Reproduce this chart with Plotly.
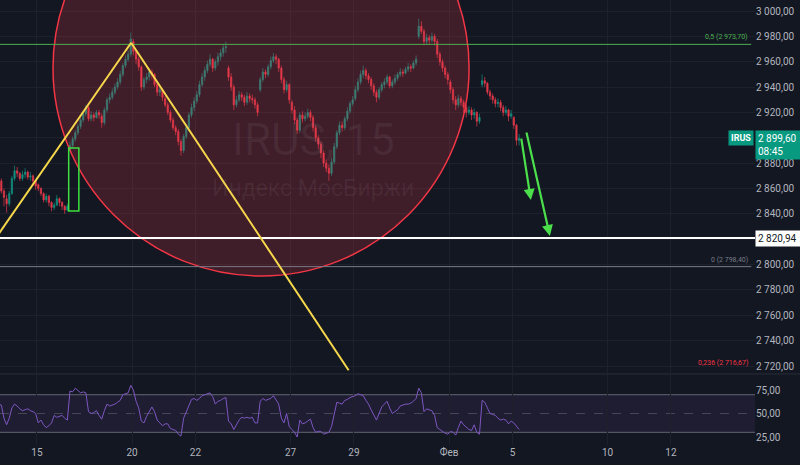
import plotly.graph_objects as go

# ---- IRUS (Индекс МосБиржи), 15-minute bars grouped into 12 slots per session ----
# session day index: 0 = Jan 15 2025 (trading days only, weekends removed)
session_day = [-2, -1, 0, 1, 2, 3, 4, 5, 6, 7, 8, 9, 10, 11, 12, 13, 14, 15]
session_first_slot = [9, 0, 0, 0, 0, 0, 0, 0, 0, 0, 0, 0, 0, 0, 0, 0, 0, 0]
session_bars = [3, 12, 12, 12, 12, 12, 12, 12, 12, 12, 12, 12, 12, 12, 12, 12, 12, 3]
session_open = [2870, 2852, 2863, 2890, 2917, 2976, 2931, 2929, 2955, 2938,
                2928, 2888, 2931, 2944, 2980, 2944, 2942, 2916]
SLOTS = 12

close = [
    2866, 2858, 2853,
    2848, 2856, 2868, 2874, 2872, 2868, 2871, 2873, 2869, 2870, 2866, 2862,
    2860, 2856, 2851, 2854, 2849, 2845, 2847, 2852, 2849, 2846, 2843, 2846,
    2894, 2899, 2904, 2909, 2914, 2919, 2924, 2915, 2918, 2916, 2920, 2918,
    2912, 2922, 2930, 2932, 2936, 2940, 2944, 2950, 2957, 2962, 2966, 2978,
    2968, 2962, 2956, 2940, 2946, 2948, 2952, 2950, 2942, 2936, 2938, 2932,
    2926, 2920, 2914, 2908, 2905, 2897, 2890, 2901, 2908, 2918, 2924, 2929,
    2934, 2942, 2948, 2953, 2958, 2962, 2955, 2960, 2964, 2967, 2971, 2972,
    2948, 2940, 2926, 2930, 2934, 2932, 2928, 2933, 2931, 2930, 2926, 2920,
    2946, 2952, 2950, 2956, 2961, 2964, 2962, 2955, 2946, 2938, 2942, 2930,
    2922, 2914, 2906, 2918, 2915, 2917, 2920, 2916, 2908, 2900, 2895, 2888,
    2880, 2876, 2872, 2881, 2893, 2904, 2910, 2908, 2915, 2921, 2927, 2930,
    2938, 2944, 2950, 2953, 2949, 2946, 2941, 2936, 2932, 2938, 2942, 2944,
    2948, 2941, 2944, 2947, 2950, 2952, 2951, 2954, 2956, 2955, 2959, 2962,
    2988, 2984, 2976, 2979, 2977, 2980, 2976, 2966, 2960, 2955, 2950, 2946,
    2938, 2930, 2926, 2931, 2928, 2924, 2920, 2922, 2918, 2920, 2913, 2916,
    2945, 2943, 2936, 2933, 2930, 2927, 2928, 2924, 2920, 2922, 2917, 2919,
    2910, 2898, 2899.60,
]
high = [
    2872, 2868, 2860,
    2855, 2858, 2870, 2878, 2877, 2873, 2874, 2876, 2874, 2873, 2871, 2867,
    2864, 2861, 2857, 2856, 2855, 2850, 2849, 2855, 2853, 2850, 2847, 2848,
    2897, 2901, 2906, 2911, 2916, 2921, 2926, 2925, 2921, 2920, 2922, 2922,
    2919, 2924, 2932, 2935, 2939, 2943, 2947, 2953, 2959, 2965, 2969, 2983,
    2978, 2970, 2964, 2957, 2948, 2951, 2955, 2954, 2951, 2944, 2940, 2939,
    2933, 2928, 2922, 2916, 2910, 2907, 2899, 2903, 2911, 2920, 2927, 2932,
    2937, 2945, 2951, 2956, 2961, 2966, 2963, 2962, 2967, 2970, 2974, 2976,
    2957, 2951, 2942, 2933, 2937, 2936, 2934, 2936, 2935, 2934, 2932, 2928,
    2948, 2955, 2954, 2958, 2964, 2967, 2966, 2963, 2957, 2948, 2945, 2943,
    2930, 2925, 2916, 2920, 2921, 2920, 2923, 2922, 2918, 2910, 2902, 2897,
    2890, 2883, 2879, 2884, 2896, 2906, 2913, 2913, 2917, 2924, 2929, 2933,
    2941, 2947, 2953, 2957, 2955, 2951, 2948, 2943, 2938, 2940, 2944, 2947,
    2950, 2949, 2946, 2950, 2952, 2955, 2954, 2956, 2959, 2958, 2961, 2965,
    2994, 2992, 2986, 2982, 2981, 2983, 2982, 2978, 2968, 2962, 2957, 2952,
    2946, 2940, 2933, 2934, 2933, 2930, 2926, 2925, 2924, 2923, 2921, 2919,
    2950, 2948, 2944, 2938, 2935, 2932, 2931, 2930, 2926, 2925, 2923, 2922,
    2917, 2911, 2903,
]
low = [
    2864, 2856, 2846,
    2841, 2846, 2855, 2866, 2869, 2866, 2866, 2868, 2867, 2866, 2864, 2859,
    2858, 2854, 2849, 2849, 2846, 2842, 2843, 2846, 2846, 2843, 2840, 2842,
    2889, 2892, 2897, 2902, 2907, 2912, 2917, 2913, 2913, 2913, 2915, 2915,
    2908, 2910, 2920, 2927, 2930, 2934, 2938, 2942, 2948, 2955, 2960, 2964,
    2965, 2958, 2953, 2937, 2938, 2943, 2945, 2946, 2940, 2933, 2933, 2929,
    2924, 2918, 2912, 2906, 2902, 2894, 2886, 2888, 2899, 2906, 2916, 2921,
    2927, 2932, 2940, 2945, 2951, 2956, 2952, 2953, 2957, 2961, 2964, 2967,
    2945, 2937, 2922, 2924, 2928, 2929, 2925, 2926, 2928, 2927, 2923, 2917,
    2936, 2944, 2947, 2948, 2954, 2959, 2958, 2952, 2943, 2935, 2936, 2927,
    2919, 2911, 2903, 2904, 2912, 2913, 2915, 2913, 2905, 2897, 2891, 2884,
    2877, 2873, 2866, 2870, 2879, 2891, 2902, 2905, 2906, 2913, 2919, 2925,
    2929, 2936, 2942, 2947, 2946, 2943, 2938, 2933, 2928, 2930, 2936, 2939,
    2942, 2939, 2939, 2942, 2945, 2948, 2948, 2950, 2952, 2952, 2954, 2957,
    2978, 2982, 2973, 2974, 2974, 2975, 2973, 2963, 2957, 2952, 2947, 2942,
    2935, 2927, 2922, 2924, 2925, 2920, 2916, 2918, 2914, 2915, 2909, 2911,
    2940, 2940, 2934, 2930, 2927, 2924, 2924, 2921, 2917, 2918, 2913, 2915,
    2907, 2894, 2894,
]
rsi = [
    60, 59, 45,
    38, 45, 56, 60, 58, 55, 53, 54, 55, 53, 52, 50,
    40, 43, 38, 35, 37, 40, 48, 46, 47, 48, 45, 43,
    74, 73, 77, 74, 72, 73, 72, 52, 50, 51, 53, 48,
    44, 53, 60, 58, 59, 60, 62, 64, 70, 71, 72, 80,
    75, 63, 56, 42, 40, 47, 52, 57, 52, 43, 40, 37,
    39, 39, 34, 33, 32, 28, 26, 45, 52, 60, 65, 66,
    64, 66, 69, 70, 71, 72, 68, 60, 63, 64, 66, 67,
    42, 39, 33, 38, 43, 46, 45, 46, 45, 46, 40, 40,
    63, 66, 64, 65, 66, 69, 65, 60, 45, 40, 50, 36,
    33, 30, 25, 43, 39, 40, 42, 44, 35, 30, 31, 31,
    28, 29, 30, 36, 48, 62, 61, 60, 64, 65, 67, 68,
    69, 71, 70, 69, 64, 60, 54, 48, 43, 50, 57, 60,
    63, 56, 50, 52, 54, 58, 59, 60, 60, 61, 63, 66,
    77, 72, 52, 55, 54, 53, 48, 35, 33, 31, 29, 28,
    31, 30, 27, 35, 42, 38, 35, 33, 32, 38, 30, 28,
    64, 62, 56, 50, 49, 48, 45, 43, 44, 43, 39, 42,
    40, 36, 33,
]

# axis labels
tick_days = [0, 3, 5, 8, 10, 13, 15, 18, 20]
tick_text = ["15", "20", "22", "27", "29", "Фев", "5", "10", "12"]
price_ticks = [3000, 2980, 2960, 2940, 2920, 2900, 2880, 2860, 2840, 2820,
               2800, 2780, 2760, 2740, 2720]
rsi_ticks = [25, 50, 75]

# drawing tools
fib_levels = [2973.70, 2798.40, 2716.67]
fib_names = ["0,5", "0", "0,236"]
fib_colors = ["#4caf50", "#787b86", "#f23645"]
level_line = 2820.94
zigzag_day = [-1.4, 2.97, 9.83]
zigzag_price = [2817.3, 2975.0, 2716.67]
gap_box_day = [1.0, 1.32]
gap_box_price = [2842.3, 2892.0]
ellipse_day = [0.505, 13.63]
ellipse_price = [2791.0, 3119.1]
arrow_tail_day = [15.27, 15.43]
arrow_tail_price = [2900.6, 2905.4]
arrow_head_day = [15.58, 16.18]
arrow_head_price = [2850.9, 2822.6]
countdown = "08:45"

BG = "#131722"
GRID = "#1d212c"
AXIS = "#b2b5be"
UP = "#138f80"
DOWN = "#e23a4a"
FONT = "Roboto"


def ru_price(v):
    s = f"{v:,.2f}"
    return s.replace(",", " ").replace(".", ",")


# bar positions and opens
x, opens = [], []
k = 0
for s, day in enumerate(session_day):
    for j in range(session_bars[s]):
        x.append(day + (session_first_slot[s] + j + 0.5) / SLOTS)
        opens.append(session_open[s] if j == 0 else close[k - 1])
        k += 1

fig = go.Figure()
fig.add_trace(go.Candlestick(
    x=x, open=opens, high=high, low=low, close=close,
    increasing=dict(line=dict(color=UP, width=0.7), fillcolor=UP),
    decreasing=dict(line=dict(color=DOWN, width=0.7), fillcolor=DOWN),
    whiskerwidth=0, xaxis="x", yaxis="y", hoverinfo="skip", showlegend=False,
))
fig.add_trace(go.Scatter(
    x=x, y=rsi, mode="lines", line=dict(color="#7e57c2", width=1),
    xaxis="x", yaxis="y2", hoverinfo="skip", showlegend=False,
))

shapes = []
# RSI band and levels
shapes.append(dict(type="rect", xref="paper", yref="y2", x0=0, x1=1, y0=30, y1=70,
                   fillcolor="rgba(126,87,194,0.10)", line=dict(width=0), layer="below"))
for lv, dash, col in [(70, "solid", "rgba(120,123,134,0.8)"),
                      (50, "dash", "rgba(120,123,134,0.45)"),
                      (30, "solid", "rgba(120,123,134,0.8)")]:
    shapes.append(dict(type="line", xref="paper", yref="y2", x0=0, x1=1, y0=lv, y1=lv,
                       line=dict(color=col, width=1, dash=dash), layer="below"))
# pane separator
shapes.append(dict(type="line", xref="paper", yref="paper", x0=0, x1=1.06, y0=0.1596, y1=0.1596,
                   line=dict(color="#2a2e39", width=1)))
# circle highlight
shapes.append(dict(type="circle", xref="x", yref="y",
                   x0=ellipse_day[0], x1=ellipse_day[1], y0=ellipse_price[0], y1=ellipse_price[1],
                   fillcolor="rgba(242,54,69,0.20)", line=dict(color="#f23645", width=1.5),
                   layer="above"))
# fibonacci levels (0,236 line sits at the pane edge)
for lv, col in zip(fib_levels[:2], fib_colors[:2]):
    shapes.append(dict(type="line", xref="paper", yref="y", x0=0, x1=0.995, y0=lv, y1=lv,
                       line=dict(color=col, width=1), layer="above"))
# horizontal level
shapes.append(dict(type="line", xref="paper", yref="y", x0=0, x1=1, y0=level_line, y1=level_line,
                   line=dict(color="#ffffff", width=2), layer="above"))
# zigzag
for i in range(len(zigzag_day) - 1):
    shapes.append(dict(type="line", xref="x", yref="y",
                       x0=zigzag_day[i], x1=zigzag_day[i + 1],
                       y0=zigzag_price[i], y1=zigzag_price[i + 1],
                       line=dict(color="#f7d84c", width=2), layer="above"))
# gap box
shapes.append(dict(type="rect", xref="x", yref="y",
                   x0=gap_box_day[0], x1=gap_box_day[1], y0=gap_box_price[0], y1=gap_box_price[1],
                   line=dict(color="#3ee03e", width=1.5), fillcolor="rgba(0,0,0,0)", layer="above"))

annotations = []
# watermark
annotations.append(dict(text="IRUS, 15", xref="paper", yref="paper", x=0.4146, y=0.6854,
                        xanchor="center", yanchor="middle", showarrow=False,
                        font=dict(family=FONT, size=44, color="rgba(178,181,190,0.09)")))
annotations.append(dict(text="Индекс МосБиржи", xref="paper", yref="paper", x=0.4146, y=0.5775,
                        xanchor="center", yanchor="middle", showarrow=False,
                        font=dict(family=FONT, size=23, color="rgba(178,181,190,0.09)")))
# fib labels
for lv, nm, col in zip(fib_levels, fib_names, fib_colors):
    annotations.append(dict(text=f"{nm} ({ru_price(lv)})", xref="paper", yref="y", x=0.994, y=lv,
                            xanchor="right", yanchor="bottom", yshift=1, showarrow=False,
                            font=dict(family=FONT, size=7, color=col)))
# arrows
for tx, ty, hx, hy in zip(arrow_tail_day, arrow_tail_price, arrow_head_day, arrow_head_price):
    annotations.append(dict(x=hx, y=hy, ax=tx, ay=ty, xref="x", yref="y", axref="x", ayref="y",
                            text="", showarrow=True, arrowhead=2, arrowsize=1, arrowwidth=2.2,
                            arrowcolor="#4be04b"))
# price scale labels
annotations.append(dict(text=ru_price(level_line), xref="paper", yref="y", x=1, y=level_line,
                        xanchor="left", yanchor="middle", showarrow=False, bgcolor="#ffffff",
                        width=41, align="left", borderpad=2,
                        font=dict(family=FONT, size=10, color="#131722")))
last_price = close[-1]
annotations.append(dict(text=f"{ru_price(last_price)}<br>{countdown}", xref="paper", yref="y",
                        x=1, y=last_price, xanchor="left", yanchor="top", yshift=8,
                        showarrow=False, bgcolor="#089981", width=41, align="left", borderpad=2,
                        font=dict(family=FONT, size=10, color="#ffffff")))
annotations.append(dict(text="<b>IRUS</b>", xref="paper", yref="y", x=1, y=last_price,
                        xanchor="right", yanchor="middle", xshift=-1, showarrow=False,
                        bgcolor="#089981", borderpad=2, font=dict(family=FONT, size=9, color="#ffffff")))

fig.update_layout(
    width=800, height=465,
    margin=dict(l=0, r=45, t=0, b=20),
    paper_bgcolor=BG, plot_bgcolor=BG,
    showlegend=False,
    font=dict(family=FONT, color=AXIS),
    xaxis=dict(range=[-1.167, 22.65], tickvals=tick_days, ticktext=tick_text,
               showgrid=True, gridcolor=GRID, gridwidth=1, zeroline=False, showline=False,
               ticks="", anchor="y2", rangeslider=dict(visible=False),
               tickfont=dict(family=FONT, size=10, color=AXIS)),
    yaxis=dict(domain=[0.1618, 1], range=[2714.5, 3008.7], side="right",
               tickvals=price_ticks,
               ticktext=["" if v in (2900, 2820) else ru_price(v) for v in price_ticks],
               showgrid=True, gridcolor=GRID, zeroline=False, showline=False, ticks="",
               tickfont=dict(family=FONT, size=10, color=AXIS)),
    yaxis2=dict(domain=[0, 0.1573], range=[16.5, 91], side="right", anchor="x",
                tickvals=rsi_ticks, ticktext=[ru_price(v) for v in rsi_ticks],
                showgrid=False, zeroline=False, showline=False, ticks="",
                tickfont=dict(family=FONT, size=10, color=AXIS)),
    shapes=shapes,
    annotations=annotations,
)

fig.write_html("out.html")
